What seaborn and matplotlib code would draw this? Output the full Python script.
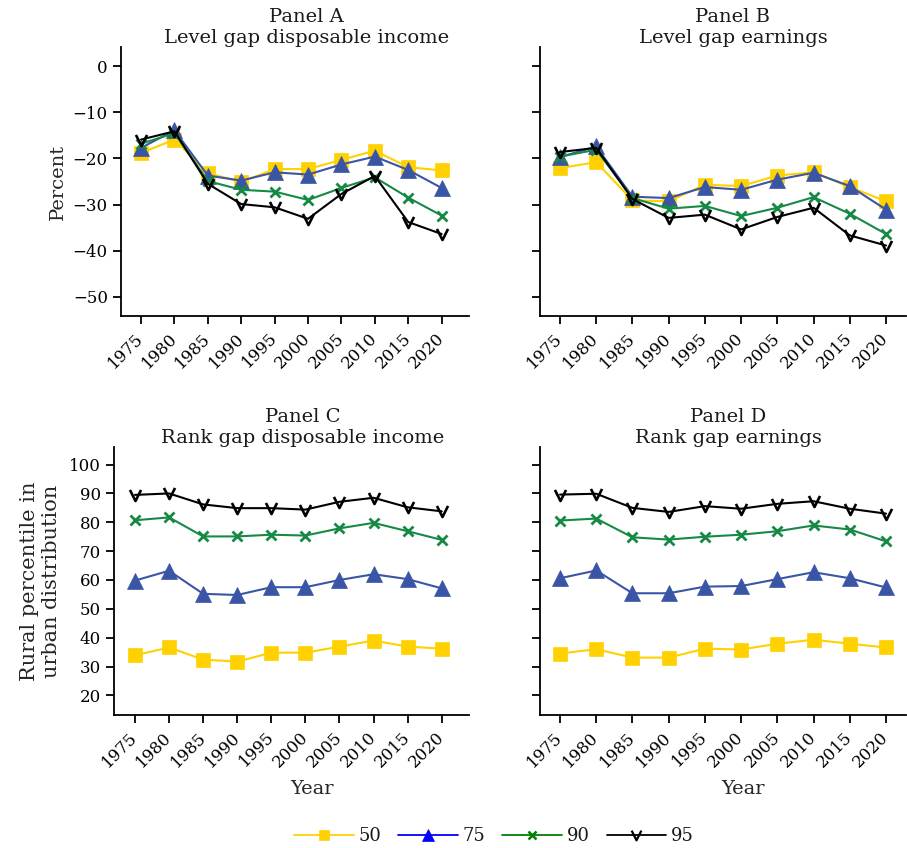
import numpy as np
import pandas as pd
import matplotlib
matplotlib.use("Agg")
import matplotlib.pyplot as plt
from matplotlib.path import Path
from matplotlib.lines import Line2D
import seaborn as sns

# ---------------- data ----------------
years = [1975, 1980, 1985, 1990, 1995, 2000, 2005, 2010, 2015, 2020]
series_labels = ["50", "75", "90", "95"]

# Panel A: level gap disposable income (percent)
a_p50 = [-18.8, -15.9, -23.2, -25.1, -22.3, -22.3, -20.3, -18.3, -21.9, -22.6]
a_p75 = [-17.7, -13.9, -23.7, -24.8, -23.0, -23.5, -21.3, -19.6, -22.5, -26.4]
a_p90 = [-16.8, -14.5, -24.9, -26.8, -27.2, -29.0, -26.4, -24.1, -28.5, -32.4]
a_p95 = [-15.9, -14.1, -25.5, -29.9, -30.6, -33.1, -27.7, -23.8, -33.8, -36.4]

# Panel B: level gap earnings (percent)
b_p50 = [-22.1, -20.8, -29.1, -29.3, -25.7, -26.0, -23.7, -23.0, -26.2, -29.3]
b_p75 = [-19.7, -17.4, -28.3, -28.6, -26.2, -26.8, -24.6, -23.1, -26.0, -31.1]
b_p90 = [-19.6, -18.1, -28.6, -30.9, -30.3, -32.5, -30.7, -28.4, -32.0, -36.4]
b_p95 = [-18.6, -17.7, -28.8, -32.9, -32.2, -35.4, -32.7, -30.7, -36.7, -38.9]

# Panel C: rank gap disposable income (percentile)
c_p50 = [33.9, 36.6, 32.4, 31.7, 34.8, 34.8, 36.9, 39.0, 36.9, 36.2]
c_p75 = [59.8, 63.2, 55.2, 54.8, 57.5, 57.5, 60.0, 62.0, 60.3, 57.1]
c_p90 = [80.7, 81.7, 75.1, 75.1, 75.7, 75.4, 77.9, 79.8, 76.9, 73.9]
c_p95 = [89.5, 90.0, 86.2, 84.9, 84.9, 84.4, 87.1, 88.5, 85.2, 83.8]

# Panel D: rank gap earnings (percentile)
d_p50 = [34.5, 36.0, 33.1, 33.1, 36.2, 35.9, 37.9, 39.3, 37.9, 36.6]
d_p75 = [60.6, 63.3, 55.4, 55.4, 57.7, 57.9, 60.3, 62.7, 60.6, 57.4]
d_p90 = [80.6, 81.3, 74.8, 74.0, 75.0, 75.7, 76.9, 78.9, 77.5, 73.4]
d_p95 = [89.6, 89.9, 85.0, 83.6, 85.6, 84.7, 86.4, 87.3, 84.7, 83.0]

panel_titles = ["Panel A\nLevel gap disposable income",
                "Panel B\nLevel gap earnings",
                "Panel C\nRank gap disposable income",
                "Panel D\nRank gap earnings"]
level_ticks = [0, -10, -20, -30, -40, -50]
rank_ticks = [20, 30, 40, 50, 60, 70, 80, 90, 100]

# ---------------- style ----------------
sns.set_theme(style="ticks")
plt.rcParams["font.family"] = ["DejaVu Serif"]
plt.rcParams["axes.linewidth"] = 1.3
plt.rcParams["xtick.major.width"] = 1.3
plt.rcParams["ytick.major.width"] = 1.3
plt.rcParams["xtick.major.size"] = 6
plt.rcParams["ytick.major.size"] = 6
plt.rcParams["axes.edgecolor"] = "black"
plt.rcParams["xtick.color"] = "black"
plt.rcParams["ytick.color"] = "black"
plt.rcParams["text.color"] = "#1a1a1a"

vee = Path([(-1.0, 1.0), (0.0, -1.0), (1.0, 1.0)],
           [Path.MOVETO, Path.LINETO, Path.LINETO])

plot_colors = ["#FFD100", "#3B55A6", "#168A45", "#000000"]
legend_colors = ["#FFD100", "#0000FF", "#008000", "#000000"]
markers = ["s", "^", "x", vee]
msizes = [9.5, 11, 6.5, 8]
mews = [0.5, 0.5, 2.0, 1.9]

W, H = 907, 848
fig = plt.figure(figsize=(W / 100, H / 100), dpi=100)


def px_axes(left, right, top, bottom):
    return fig.add_axes([left / W, 1 - bottom / H, (right - left) / W, (bottom - top) / H])


axA = px_axes(121, 469, 47, 316)
axB = px_axes(540, 906, 47, 316)
axC = px_axes(114, 469, 447, 715)
axD = px_axes(540, 906, 447, 715)

panels = [
    (axA, [a_p50, a_p75, a_p90, a_p95]),
    (axB, [b_p50, b_p75, b_p90, b_p95]),
    (axC, [c_p50, c_p75, c_p90, c_p95]),
    (axD, [d_p50, d_p75, d_p90, d_p95]),
]

for ax, data in panels:
    for i, vals in enumerate(data):
        df = pd.DataFrame({"Year": years, "value": vals})
        mk = markers[i]
        kw = dict(marker=mk, markersize=msizes[i], markeredgewidth=mews[i],
                  color=plot_colors[i], linewidth=1.5)
        if mk is vee:
            kw.update(markerfacecolor="none", markeredgecolor=plot_colors[i])
        elif mk == "x":
            kw.update(markeredgecolor=plot_colors[i])
        else:
            kw.update(markerfacecolor=plot_colors[i], markeredgecolor=plot_colors[i])
        sns.lineplot(data=df, x="Year", y="value", ax=ax, **kw)
    sns.despine(ax=ax)
    ax.set_xticks(years)
    ax.set_xticklabels([str(y) for y in years], rotation=45, ha="right",
                       va="center", rotation_mode="anchor", fontsize=12)
    ax.tick_params(axis="x", pad=8)
    ax.tick_params(axis="y", labelsize=12)
    ax.set_xlabel("")
    ax.set_ylabel("")

# x limits (derived from tick placement in reference)
axA.set_xlim(1972.0, 2024.1)
axB.set_xlim(1972.24, 2022.76)
axC.set_xlim(1971.92, 2024.0)
axD.set_xlim(1972.24, 2022.76)

for ax in (axA, axB):
    ax.set_ylim(-54.2, 4.2)
    ax.set_yticks(level_ticks)
for ax in (axC, axD):
    ax.set_ylim(13.2, 106.1)
    ax.set_yticks(rank_ticks)
for ax in (axB, axD):
    ax.tick_params(axis="y", labelleft=False)

axA.set_ylabel("Percent", fontsize=14)
axC.set_ylabel("Rural percentile in\nurban distribution", fontsize=15, labelpad=6)

# titles
title_x = [0.534, 0.527, 0.531, 0.514]
for ax, t, tx in zip([axA, axB, axC, axD], panel_titles, title_x):
    ax.set_title(t, fontsize=14, x=tx, pad=0, linespacing=1.25)

for ax, lx in [(axC, 0.558), (axD, 0.555)]:
    ax.set_xlabel("Year", fontsize=14)
    ax.xaxis.set_label_coords(lx, -0.243)

# legend
handles = []
for i in range(4):
    mk = markers[i]
    kw = dict(color=legend_colors[i], linewidth=1.3, marker=mk,
              markersize=[7.5, 9, 6, 7][i], markeredgewidth=[0.5, 0.5, 1.8, 1.6][i])
    if mk is vee:
        kw.update(markerfacecolor="none", markeredgecolor=legend_colors[i])
    elif mk != "x":
        kw.update(markerfacecolor=legend_colors[i], markeredgecolor=legend_colors[i])
    handles.append(Line2D([0], [0], **kw))

fig.legend(handles, series_labels, loc="center", bbox_to_anchor=(494 / W, 1 - 836 / H),
           ncol=4, frameon=False, handlelength=3.3, handletextpad=0.25,
           columnspacing=0.95, fontsize=13)

fig.savefig("out.png", dpi=100)
